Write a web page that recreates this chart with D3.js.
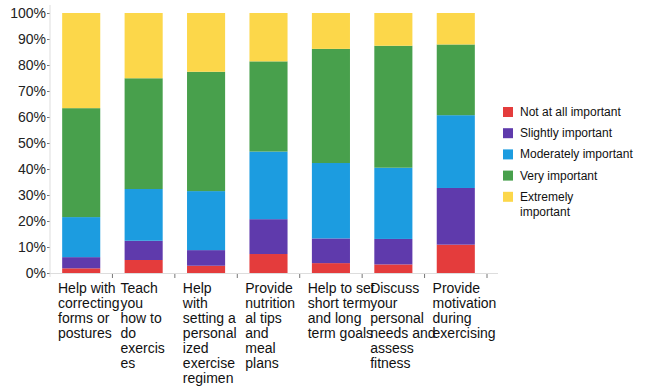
<!DOCTYPE html>
<html>
<head>
<meta charset="utf-8">
<script src="https://cdn.jsdelivr.net/npm/d3@7"></script>
<style>
  body { margin: 0; background: #fff; }
  svg { font-family: "Liberation Sans", Arial, sans-serif; }
  .tick text { fill: #222; font-size: 14px; }
</style>
</head>
<body>
<svg id="chart"></svg>
<script>
const categories = [
  ["Help with", "correcting", "forms or", "postures"],
  ["Teach", "you", "how to", "do", "exercis", "es"],
  ["Help", "with", "setting a", "personal", "ized", "exercise", "regimen"],
  ["Provide", "nutrition", "al tips", "and", "meal", "plans"],
  ["Help to set", "short term", "and long", "term goals"],
  ["Discuss", "your", "personal", "needs and", "assess", "fitness"],
  ["Provide", "motivation", "during", "exercising"],
];

const levels = ["Not at all important", "Slightly important", "Moderately important", "Very important", "Extremely important"];
const colors = ["#e43c3c", "#5f3aac", "#1c9ce0", "#48a04c", "#fcd74a"];

// percentages per category
const notAtAll   = [1.8, 5.0, 2.8, 7.3, 3.8, 3.3, 10.9];
const slightly   = [4.3, 7.4, 6.0, 13.4, 9.5, 9.8, 21.8];
const moderately = [15.4, 19.9, 22.7, 26.0, 29.0, 27.4, 28.0];
const very       = [41.9, 42.6, 45.9, 34.7, 43.9, 46.9, 27.2];
const extremely  = [36.6, 25.1, 22.6, 18.6, 13.8, 12.6, 12.1];

const yTicks = [0, 10, 20, 30, 40, 50, 60, 70, 80, 90, 100];

const width = 657, height = 387;
const svg = d3.select("#chart").attr("width", width).attr("height", height);

const keys = categories.map((c, i) => i);
const rows = keys.map((i) => ({
  key: i,
  [levels[0]]: notAtAll[i],
  [levels[1]]: slightly[i],
  [levels[2]]: moderately[i],
  [levels[3]]: very[i],
  [levels[4]]: extremely[i],
}));

const x = d3.scaleBand().domain(keys).range([50, 487]).paddingInner(0.39).paddingOuter(0.195);
const y = d3.scaleLinear().domain([0, 100]).range([273, 13]);
const color = d3.scaleOrdinal().domain(levels).range(colors);

const series = d3.stack().keys(levels)(rows);

// y axis
const yAxis = svg.append("g")
  .attr("transform", "translate(50,0)")
  .call(d3.axisLeft(y).tickValues(yTicks).tickFormat((d) => d + "%").tickSize(3).tickPadding(1));
yAxis.select(".domain").remove();
yAxis.selectAll(".tick line").attr("stroke", "#777");

svg.append("line")
  .attr("x1", 50).attr("x2", 50)
  .attr("y1", 5).attr("y2", 277)
  .attr("stroke", "#ddd");

// x axis line and ticks at band boundaries
svg.append("line")
  .attr("x1", 50).attr("x2", 498)
  .attr("y1", y(0) + 0.5).attr("y2", y(0) + 0.5)
  .attr("stroke", "#ddd");

const gap = (x.step() - x.bandwidth()) / 2;
svg.append("g")
  .selectAll("line")
  .data(keys)
  .join("line")
  .attr("x1", (d) => x(d) + x.bandwidth() + gap)
  .attr("x2", (d) => x(d) + x.bandwidth() + gap)
  .attr("y1", y(0) + 1)
  .attr("y2", y(0) + 5)
  .attr("stroke", "#777");

// bars
svg.append("g")
  .selectAll("g")
  .data(series)
  .join("g")
  .attr("fill", (d) => color(d.key))
  .selectAll("rect")
  .data((d) => d)
  .join("rect")
  .attr("x", (d) => x(d.data.key))
  .attr("y", (d) => y(d[1]))
  .attr("height", (d) => y(d[0]) - y(d[1]))
  .attr("width", x.bandwidth());

// category labels, wrapped as in the original
const labels = svg.append("g")
  .selectAll("text")
  .data(keys)
  .join("text")
  .attr("x", (d) => x(d) - gap + 8)
  .attr("y", 293)
  .attr("font-size", 14)
  .attr("fill", "#111");
labels.selectAll("tspan")
  .data((d) => categories[d].map((line) => ({ line, d })))
  .join("tspan")
  .attr("x", (t) => x(t.d) - gap + 8)
  .attr("dy", (t, i) => (i === 0 ? 0 : 15))
  .text((t) => t.line);

// legend
const legend = svg.append("g").attr("transform", "translate(503,112)");
const items = legend.selectAll("g")
  .data(levels)
  .join("g")
  .attr("transform", (d, i) => `translate(0,${i * 21.2})`);
items.append("rect")
  .attr("x", 0).attr("y", -5)
  .attr("width", 10).attr("height", 10)
  .attr("fill", (d) => color(d));
items.append("text")
  .attr("x", 17)
  .attr("y", 4)
  .attr("font-size", 12)
  .attr("fill", "#111")
  .selectAll("tspan")
  .data((d) => (d === "Extremely important" ? ["Extremely", "important"] : [d]))
  .join("tspan")
  .attr("x", 17)
  .attr("dy", (t, i) => (i === 0 ? 0 : 15))
  .text((t) => t);
</script>
</body>
</html>
